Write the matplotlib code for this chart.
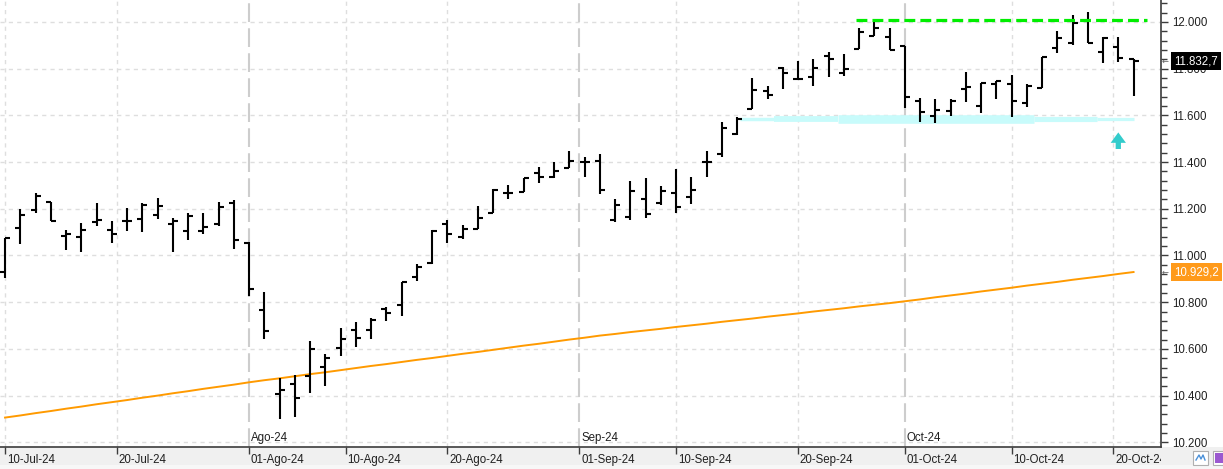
import numpy as np
import pandas as pd
import matplotlib
matplotlib.use("Agg")
import matplotlib.pyplot as plt
from matplotlib.patches import Rectangle
from matplotlib.transforms import Bbox, TransformedBbox, blended_transform_factory

# ---------------- data ----------------
dates = pd.bdate_range("2024-07-10", "2024-10-22")

opens = [10928, 11116, 11193, 11228, 11082, 11078, 11142, 11108, 11146, 11155,
         11173, 11135, 11104, 11104, 11134, 11225, 11055, 10765, 10405, 10448,
         10484, 10522, 10602, 10680, 10680, 10770, 10787, 10907, 10969, 11135,
         11081, 11112, 11183, 11266, 11273, 11353, 11335, 11373, 11399, 11405,
         11151, 11166, 11242, 11223, 11266, 11249, 11402, 11435, 11519, 11626,
         11704, 11802, 11754, 11763, 11853, 11782, 11883, 11940, 11934, 11899,
         11662, 11596, 11619, 11712, 11640, 11733, 11733, 11652, 11716, 11887,
         11909, 12004, 11873, 11892, 11842]
highs = [11074, 11199, 11266, 11228, 11109, 11139, 11225, 11148, 11203, 11223,
         11246, 11159, 11181, 11182, 11229, 11238, 11059, 10842, 10477, 10487,
         10632, 10578, 10690, 10714, 10731, 10778, 10888, 10962, 11109, 11152,
         11129, 11211, 11283, 11303, 11330, 11378, 11399, 11447, 11423, 11435,
         11243, 11319, 11330, 11296, 11369, 11335, 11446, 11570, 11595, 11759,
         11724, 11809, 11833, 11842, 11871, 11864, 11973, 12006, 11973, 11899,
         11676, 11669, 11670, 11785, 11737, 11749, 11772, 11733, 11851, 11963,
         12030, 12041, 11937, 11934, 11842]
lows = [10902, 11048, 11181, 11146, 11025, 11016, 11125, 11052, 11106, 11099,
        11155, 11014, 11068, 11091, 11125, 11026, 10825, 10641, 10298, 10307,
        10413, 10442, 10571, 10609, 10644, 10721, 10742, 10892, 10964, 11055,
        11069, 11112, 11181, 11240, 11273, 11309, 11332, 11373, 11338, 11262,
        11142, 11153, 11159, 11215, 11181, 11222, 11338, 11423, 11516, 11626,
        11669, 11712, 11754, 11724, 11763, 11770, 11883, 11940, 11880, 11630,
        11573, 11566, 11596, 11659, 11609, 11672, 11592, 11637, 11716, 11866,
        11901, 11909, 11823, 11830, 11684]
closes = [11074, 11173, 11255, 11146, 11092, 11108, 11151, 11092, 11146, 11215,
          11212, 11146, 11169, 11121, 11208, 11065, 10856, 10675, 10424, 10388,
          10598, 10560, 10641, 10645, 10724, 10752, 10886, 10950, 11105, 11091,
          11115, 11159, 11280, 11266, 11330, 11335, 11360, 11403, 11399, 11280,
          11215, 11278, 11178, 11276, 11206, 11280, 11402, 11545, 11583, 11707,
          11686, 11782, 11754, 11802, 11840, 11797, 11956, 11973, 11880, 11677,
          11613, 11623, 11663, 11720, 11737, 11747, 11662, 11726, 11851, 11933,
          11997, 11909, 11930, 11845, 11832.7]
moving_avg = [10306, 10315, 10325, 10334, 10344, 10353, 10363, 10372, 10381, 10391,
              10400, 10410, 10419, 10429, 10438, 10447, 10457, 10466, 10474, 10483,
              10492, 10500, 10509, 10518, 10527, 10535, 10544, 10553, 10561, 10570,
              10579, 10587, 10596, 10605, 10614, 10622, 10631, 10640, 10648, 10657,
              10664, 10672, 10679, 10686, 10694, 10701, 10708, 10716, 10723, 10730,
              10738, 10745, 10752, 10760, 10767, 10774, 10782, 10789, 10796, 10804,
              10812, 10821, 10829, 10837, 10846, 10854, 10862, 10871, 10879, 10887,
              10896, 10904, 10912, 10921, 10929.2]

tick_dates = ["2024-07-10", "2024-07-20", "2024-08-01", "2024-08-10", "2024-08-20",
              "2024-09-01", "2024-09-10", "2024-09-20", "2024-10-01", "2024-10-10",
              "2024-10-20"]
tick_labels = ["10-Jul-24", "20-Jul-24", "01-Ago-24", "10-Ago-24", "20-Ago-24",
               "01-Sep-24", "10-Sep-24", "20-Sep-24", "01-Oct-24", "10-Oct-24",
               "20-Oct-24"]
month_dates = ["2024-08-01", "2024-09-01", "2024-10-01"]
month_labels = ["Ago-24", "Sep-24", "Oct-24"]

resistance = 12010
support = 11584
last_price_label = "11.832,7"
ma_label = "10.929,2"

# ---------------- helpers ----------------
day_num = (dates - dates[0]).days.values.astype(float)
idx = np.arange(len(dates), dtype=float)


def date_pos(d):
    dn = (pd.Timestamp(d) - dates[0]).days
    return float(np.interp(dn, day_num, idx))


W, H = 1223, 469
fig = plt.figure(figsize=(W / 100, H / 100), dpi=100)
fig.patch.set_facecolor("white")
strip_h = 22
fig.patches.append(Rectangle((0, 4 / H), 1, (strip_h - 4) / H, transform=fig.transFigure,
                             facecolor="#f0f0f0", edgecolor="none", zorder=-2))
fig.patches.append(Rectangle((0, 0), 1, 4 / H, transform=fig.transFigure,
                             facecolor="#f7f7f7", edgecolor="none", zorder=-2))

ax_right = 1161
ax = fig.add_axes([0, strip_h / H, ax_right / W, (H - strip_h) / H])
ax.set_facecolor("white")

bar_w = 0.33
xlim = (-0.33, 75.8)
ylim = (10180, 12094)
ax.set_xlim(*xlim)
ax.set_ylim(*ylim)

font = "Liberation Sans"
fs = 8.3

# grid
grid_col = "#dedede"
for v in range(10200, 12001, 200):
    ax.axhline(v, color=grid_col, lw=1.0, ls=(0, (3, 3)), zorder=0.5)
tick_pos = [date_pos(d) for d in tick_dates]
month_pos = [date_pos(d) for d in month_dates]
for p in tick_pos:
    if any(abs(p - m) < 1e-6 for m in month_pos):
        continue
    ax.axvline(p, color=grid_col, lw=1.0, ls=(0, (3, 3)), zorder=0.5)
for m in month_pos:
    ax.axvline(m, color="#cdcdcd", lw=1.5, ls=(0, (9, 3)), zorder=0.6)

# moving average
ax.plot(idx, moving_avg, color="#ff9a00", lw=1.4, zorder=2)

# OHLC bars
ax.vlines(idx, lows, highs, color="black", lw=1.5, zorder=3)
ax.hlines(opens, idx - bar_w, idx, color="black", lw=1.5, zorder=3)
ax.hlines(closes, idx, idx + bar_w, color="black", lw=1.5, zorder=3)

# resistance line
ax.plot([56 - 0.2, 74.9], [resistance, resistance], color="#00ee00", lw=2.3,
        ls=(0, (3.4, 1.6)), zorder=4, solid_capstyle="butt", dash_capstyle="butt")

# support band (brush-like stroke)
seg_bounds = [(48.2, 50.4, 2.5), (50.4, 54.6, 4.2), (54.6, 67.5, 6.2),
              (67.5, 71.6, 3.7), (71.6, 74.0, 2.3)]
for x0, x1, lw in seg_bounds:
    ax.plot([x0, x1], [support, support], color="#c8fbfb", lw=lw,
            solid_capstyle="butt", zorder=1)

# up arrow
ax.annotate("", xy=(73.0, 11527), xytext=(73.0, 11456),
            arrowprops=dict(arrowstyle="simple,head_width=1.1,head_length=0.75,tail_width=0.38",
                            mutation_scale=10, fc="#33cccc", ec="none",
                            shrinkA=0, shrinkB=0), zorder=5)

# spines / axes
for s in ["left", "top"]:
    ax.spines[s].set_visible(False)
for s in ["bottom", "right"]:
    ax.spines[s].set_color("#3c3c3c")
    ax.spines[s].set_linewidth(1.2)

ax.yaxis.tick_right()
ax.set_yticks(range(10200, 12001, 200))
ax.set_yticks(range(10200, 12081, 40), minor=True)
ax.set_yticklabels([f"{v:,.0f}".replace(",", ".") for v in range(10200, 12001, 200)],
                   family=font)
ax.tick_params(axis="y", which="major", length=5, width=1, color="#3c3c3c",
               labelsize=fs, labelcolor="#202020", pad=3)
ax.tick_params(axis="y", which="minor", length=4, width=1, color="#3c3c3c")

ax.set_xticks(tick_pos)
ax.set_xticklabels([])
ax.tick_params(axis="x", which="major", length=5, width=1, color="#3c3c3c")

clip = TransformedBbox(Bbox([[0, 0], [ax_right / W, 1]]), fig.transFigure)
btr = blended_transform_factory(ax.transData, ax.transAxes)
for p, lab in zip(tick_pos, tick_labels):
    t = ax.text(p + 0.12, -0.028, lab, transform=btr, ha="left", va="center",
                fontsize=fs, color="#202020", family=font)
    t.set_clip_path(None)
    t.set_clip_box(clip)
    t.set_clip_on(True)
for p, lab in zip(month_pos, month_labels):
    ax.text(p + 0.12, 0.02, lab, transform=btr, ha="left", va="center",
            fontsize=fs, color="#202020", family=font)

# right-side value boxes
rtr = blended_transform_factory(ax.transAxes, ax.transData)
xbox = 1174 / ax_right
ax.text(xbox, closes[-1], last_price_label, transform=rtr, ha="left", va="center",
        fontsize=fs, color="white", family=font, clip_on=False, zorder=6,
        bbox=dict(boxstyle="square,pad=0.25", fc="black", ec="none"))
ax.text(xbox, moving_avg[-1], ma_label, transform=rtr, ha="left", va="center",
        fontsize=fs, color="white", family=font, clip_on=False, zorder=6,
        bbox=dict(boxstyle="square,pad=0.25", fc="#ff9a1a", ec="none"))
for v in (closes[-1], moving_avg[-1]):
    ax.text(1161.5 / ax_right, v, "\u2190", transform=rtr, ha="left", va="center",
            fontsize=6, color="#606060", family="DejaVu Sans", clip_on=False, zorder=6)

# small toolbar icons bottom-right
fig.patches.append(Rectangle((1193 / W, 4 / H), 15 / W, 14 / H, transform=fig.transFigure,
                             facecolor="white", edgecolor="#b0b0b0", lw=0.8, zorder=1))
fig.lines.append(plt.Line2D(np.array([1196, 1199, 1201, 1203, 1205]) / W,
                            np.array([9, 14, 10, 14, 9]) / H, transform=fig.transFigure,
                            color="#4a90d9", lw=1.0, zorder=2))
fig.patches.append(Rectangle((1213 / W, 4 / H), 10 / W, 14 / H, transform=fig.transFigure,
                             facecolor="white", edgecolor="#b0b0b0", lw=0.8, zorder=1))
fig.patches.append(Rectangle((1215 / W, 6 / H), 8 / W, 10 / H, transform=fig.transFigure,
                             facecolor="#9b59d0", edgecolor="none", zorder=2))

fig.savefig("out.png", dpi=100)
